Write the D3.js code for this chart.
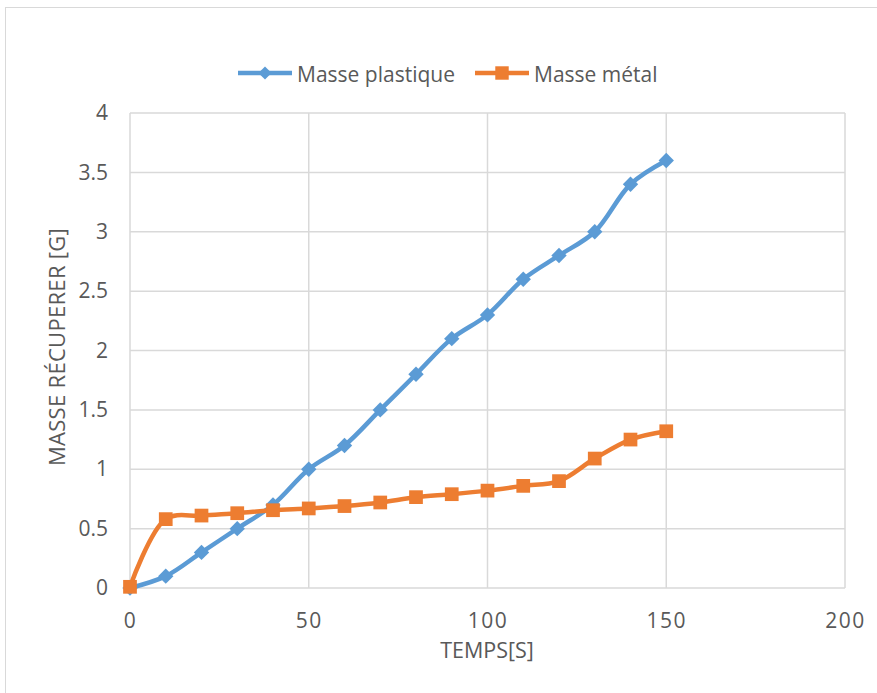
<!DOCTYPE html>
<html>
<head>
<meta charset="utf-8">
<script src="https://cdn.jsdelivr.net/npm/d3@7"></script>
<style>
  html, body { margin: 0; padding: 0; background: #fff; }
  svg { display: block; }
  text { font-family: "Open Sans", Lato, sans-serif; fill: #595959; }
</style>
</head>
<body>
<script>
// Time samples (s) and recovered masses (g)
const temps = [0, 10, 20, 30, 40, 50, 60, 70, 80, 90, 100, 110, 120, 130, 140, 150];
const massePlastique = [0, 0.1, 0.3, 0.5, 0.7, 1.0, 1.2, 1.5, 1.8, 2.1, 2.3, 2.6, 2.8, 3.0, 3.4, 3.6];
const masseMetal = [0.01, 0.58, 0.61, 0.63, 0.655, 0.67, 0.69, 0.72, 0.765, 0.79, 0.82, 0.86, 0.90, 1.09, 1.25, 1.32];
const seriesNames = ["Masse plastique", "Masse métal"];
const xTicks = [0, 50, 100, 150, 200];
const yTicks = [0, 0.5, 1, 1.5, 2, 2.5, 3, 3.5, 4];

const W = 877, H = 693;
const blue = "#5B9BD5", orange = "#ED7D31";
const FONT = "'Open Sans', Lato, sans-serif";

const svg = d3.select("body").append("svg").attr("width", W).attr("height", H);

// chart frame
svg.append("rect").attr("x", 5.5).attr("y", 7.5).attr("width", W + 10).attr("height", H + 10)
  .attr("fill", "#fff").attr("stroke", "#d9d9d9").attr("stroke-width", 1);

const plot = { left: 130, right: 845, top: 113, bottom: 588 };
const x = d3.scaleLinear().domain([0, 200]).range([plot.left, plot.right]);
const y = d3.scaleLinear().domain([0, 4]).range([plot.bottom, plot.top]);

// gridlines
const g = svg.append("g");
g.selectAll(".hg").data(yTicks).join("line")
  .attr("x1", plot.left).attr("x2", plot.right)
  .attr("y1", d => y(d)).attr("y2", d => y(d))
  .attr("stroke", "#d9d9d9").attr("stroke-width", 1.5);
g.selectAll(".vg").data(xTicks).join("line")
  .attr("x1", d => x(d)).attr("x2", d => x(d))
  .attr("y1", plot.top).attr("y2", plot.bottom)
  .attr("stroke", "#d9d9d9").attr("stroke-width", 1.5);

// axis tick labels
const xAxis = d3.axisBottom(x).tickValues(xTicks).tickSize(0).tickPadding(25)
  .tickFormat(d3.format("d"));
const xa = svg.append("g").attr("transform", `translate(0,${plot.bottom})`).call(xAxis);
xa.select(".domain").remove();
xa.selectAll("text").attr("font-size", 21).attr("fill", "#595959")
  .style("font-family", FONT).attr("letter-spacing", 1.5);

const yAxis = d3.axisLeft(y).tickValues(yTicks).tickSize(0).tickPadding(22)
  .tickFormat(d => String(d));
const ya = svg.append("g").attr("transform", `translate(${plot.left},0)`).call(yAxis);
ya.select(".domain").remove();
ya.selectAll("text").attr("font-size", 21).attr("fill", "#595959")
  .style("font-family", FONT);

// axis titles
svg.append("text").attr("x", 487).attr("y", 658)
  .attr("text-anchor", "middle").attr("font-size", 21.5).text("TEMPS[S]");
svg.append("text").attr("transform", `translate(65,347) rotate(-90)`)
  .attr("text-anchor", "middle").attr("font-size", 22).attr("letter-spacing", 0.3)
  .text("MASSE RÉCUPERER [G]");

// series
const line = d3.line().x(d => x(d[0])).y(d => y(d[1])).curve(d3.curveCatmullRom.alpha(0.5));
const plastic = temps.map((t, i) => [t, massePlastique[i]]);
const metal = temps.map((t, i) => [t, masseMetal[i]]);

const diamond = d3.symbol().type(d3.symbolDiamond2).size(150);
const square = d3.symbol().type(d3.symbolSquare2).size(240);

svg.append("path").datum(plastic).attr("d", line).attr("fill", "none")
  .attr("stroke", blue).attr("stroke-width", 4.5).attr("stroke-linejoin", "round");
svg.selectAll(".pm").data(plastic).join("path")
  .attr("transform", d => `translate(${x(d[0])},${y(d[1])})`)
  .attr("d", diamond).attr("fill", blue);

svg.append("path").datum(metal).attr("d", line).attr("fill", "none")
  .attr("stroke", orange).attr("stroke-width", 4.5).attr("stroke-linejoin", "round");
svg.selectAll(".mm").data(metal).join("path")
  .attr("transform", d => `translate(${x(d[0])},${y(d[1])})`)
  .attr("d", square).attr("fill", orange);

// legend
const legend = svg.append("g").attr("transform", "translate(0,73)");
const items = [
  { name: seriesNames[0], color: blue, sym: d3.symbol().type(d3.symbolDiamond2).size(110), x0: 238 },
  { name: seriesNames[1], color: orange, sym: d3.symbol().type(d3.symbolSquare2).size(230), x0: 475 }
];
items.forEach(it => {
  legend.append("line").attr("x1", it.x0).attr("x2", it.x0 + 54).attr("y1", 0).attr("y2", 0)
    .attr("stroke", it.color).attr("stroke-width", 4.5);
  legend.append("path").attr("transform", `translate(${it.x0 + 27},0)`).attr("d", it.sym).attr("fill", it.color);
  legend.append("text").attr("x", it.x0 + 59).attr("y", 9).attr("font-size", 21).text(it.name);
});
</script>
</body>
</html>
